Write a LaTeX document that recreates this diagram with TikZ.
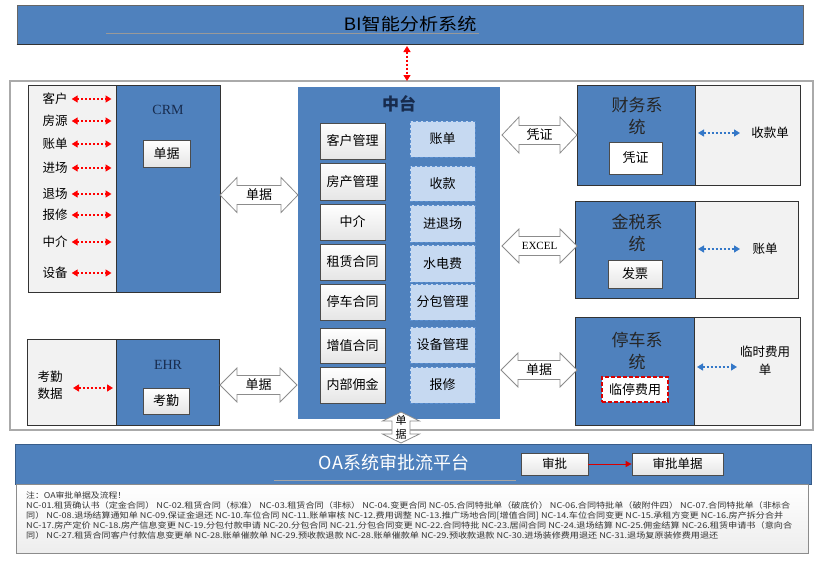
\documentclass[tikz,border=0pt]{standalone}
\usepackage{fontspec}
\setmainfont{Noto Sans CJK SC}
\newfontfamily\lserif{Liberation Serif}
\usetikzlibrary{arrows.meta,fit}
\definecolor{mblue}{RGB}{79,129,189}
\definecolor{dblue}{RGB}{56,93,138}
\definecolor{lgray}{RGB}{242,242,242}
\definecolor{lblue}{RGB}{198,217,241}
\definecolor{dashblue}{RGB}{91,143,208}
\definecolor{arrblue}{RGB}{52,120,200}
\definecolor{frameg}{RGB}{170,170,170}
\definecolor{navy}{RGB}{23,43,77}
\tikzset{
 graypart/.style={inner sep=0pt, draw=black!80, fill=lgray, line width=1pt},
 bluepart/.style={inner sep=0pt, draw=black!80, fill=mblue, line width=1pt},
 wbox/.style={draw=black!70, line width=0.8pt, top color=white, bottom color=black!10, font=\fontsize{13}{15}\selectfont},
 dbox/.style={draw=dashblue, fill=lblue, line width=1pt, dash pattern=on 3pt off 2pt, font=\fontsize{13}{15}\selectfont},
 lbl/.style={font=\fontsize{12.5}{15}\selectfont, inner sep=1pt},
 ttl/.style={font=\fontsize{17}{22}\selectfont, align=center, text=black!85},
 latin/.style={font=\lserif\fontsize{14}{16}\selectfont, text=navy},
 reddash/.style={red, line width=1.3pt, dash pattern=on 2pt off 2pt, {Triangle[length=6pt,width=7pt]}-{Triangle[length=6pt,width=7pt]}},
 bluedash/.style={arrblue, line width=1.3pt, dash pattern=on 2pt off 2pt, {Triangle[length=6pt,width=7pt]}-{Triangle[length=6pt,width=7pt]}},
 fat/.style={draw=black!45, fill=white, line width=0.8pt},
 note/.style={anchor=west, inner sep=0pt, text=black!80},
}
\newcommand\myfatH[6]{%
 \draw[fat] (#1,#3) -- ({#1+#6},{#3-#4}) -- ({#1+#6},{#3-#5}) -- ({#2-#6},{#3-#5}) -- ({#2-#6},{#3-#4}) -- (#2,#3) -- ({#2-#6},{#3+#4}) -- ({#2-#6},{#3+#5}) -- ({#1+#6},{#3+#5}) -- ({#1+#6},{#3+#4}) -- cycle;}
\newcommand\myfatV[6]{%
 \draw[fat] (#3,#1) -- ({#3+#4},{#1+#6}) -- ({#3+#5},{#1+#6}) -- ({#3+#5},{#2-#6}) -- ({#3+#4},{#2-#6}) -- (#3,#2) -- ({#3-#4},{#2-#6}) -- ({#3-#5},{#2-#6}) -- ({#3-#5},{#1+#6}) -- ({#3-#4},{#1+#6}) -- cycle;}
\newcommand\rnode[7]{%
 \pgfmathsetmacro\rcx{(#3+#5)/2}\pgfmathsetmacro\rcy{(#4+#6)/2}%
 \pgfmathsetmacro\rw{#5-#3}\pgfmathsetmacro\rh{#6-#4}%
 \node[#1, minimum width=\rw pt, minimum height=\rh pt, inner sep=0pt] (#2) at (\rcx,\rcy) {#7};}
\begin{document}
\begin{tikzpicture}[x=1pt,y=-1pt]
\useasboundingbox (0,0) rectangle (830,570);
\fill[white] (0,0) rectangle (830,570);

% BI banner
\node[fit={(17,5) (803,44)}, inner sep=0pt, fill=mblue, draw=black!60, line width=0.6pt] (bi) {};
\draw[black!80, line width=1.5pt] (bi.south west) -- (bi.south east);
\draw[black!40, line width=0.8pt] (106,33) -- (479,33);
\node[inner sep=0pt] (bitxt) at (410,24) {\resizebox{133pt}{\height}{\fontsize{17}{20}\selectfont BI智能分析系统}};

% outer frame
\node[fit={(10,81) (813,430)}, inner sep=0pt, draw=frameg, line width=2.5pt] (frame) {};
\coordinate (bia) at (407,46);
\coordinate (bib) at (407,81);
\draw[reddash] (bia) -- (bib);

% CRM
\node[fit={(28,85) (116,292)}, graypart] (crmL) {};
\node[fit={(116,85) (220,292)}, bluepart] (crmR) {};
\node[latin] (crmt) at (168,110) {CRM};
\rnode{wbox}{crmb}{143}{140}{190}{167}{单据}
\foreach \n/\t/\y in {c1/客户/99, c2/房源/121, c3/账单/144, c4/进场/168, c5/退场/194, c6/报修/215, c7/中介/242, c8/设备/273}{
 \node[lbl] (\n) at (55,\y) {\t};
 \draw[reddash, shorten <=3pt, shorten >=4pt] (\n.east) -- (\n.east -| crmR.west);
}

% EHR
\node[fit={(27,339) (116,425)}, graypart] (ehrL) {};
\node[fit={(116,339) (219,425)}, bluepart] (ehrR) {};
\node[latin] (ehrt) at (168,365) {EHR};
\rnode{wbox}{ehrb}{143}{388}{189}{414}{考勤}
\node[lbl, align=center, font=\fontsize{12.5}{17}\selectfont] (kq) at (50,385.5) {考勤\\数据};
\coordinate (kqa) at (73,388);
\coordinate (kqb) at (113,388);
\draw[reddash] (kqa) -- (kqb);

% Zhongtai
\node[fit={(298,87) (500,419)}, inner sep=0pt, fill=mblue] (zt) {};
\node[font=\fontsize{17}{20}\selectfont\bfseries, text=navy] (ztt) at (399,104) {中台};
\foreach \n/\t/\ya/\yb in {L1/客户管理/123/159, L2/房产管理/163/200, L3/中介/204/240, L4/租赁合同/244/280, L5/停车合同/284/320, L6/增值合同/328/363, L7/内部佣金/367/403}{
 \rnode{wbox}{\n}{320}{\ya}{385}{\yb}{\t}
}
\foreach \n/\t/\ya/\yb in {R1/账单/121/157, R2/收款/166/201, R3/进退场/205/242, R4/水电费/245/282, R5/分包管理/284/320, R6/设备管理/327/363, R7/报修/367/403}{
 \rnode{dbox}{\n}{410}{\ya}{475}{\yb}{\t}
}

% Finance
\node[fit={(577,85) (695,185)}, bluepart] (fL) {};
\node[fit={(695,85) (800,185)}, graypart] (fR) {};
\node[ttl] (ft) at (637,116.5) {财务系\\统};
\rnode{wbox, top color=white, bottom color=white}{fb}{609}{142}{662}{174}{凭证}
\node[lbl] (ftx) at (770,133) {收款单};
\coordinate (fa) at (698,133);
\coordinate (fb2) at (740,133);
\draw[bluedash] (fa) -- (fb2);

% Golden tax
\node[fit={(575,201) (695,298)}, bluepart] (jL) {};
\node[fit={(695,201) (798,298)}, graypart] (jR) {};
\node[ttl] (jt) at (637,232.5) {金税系\\统};
\rnode{wbox}{jb}{608}{260}{662}{288}{发票}
\node[lbl] (jtx) at (765,249) {账单};
\coordinate (ja) at (698,249);
\coordinate (jb2) at (740,249);
\draw[bluedash] (ja) -- (jb2);

% Parking
\node[fit={(575,317) (694,425)}, bluepart] (tL) {};
\node[fit={(694,317) (800,425)}, graypart] (tR) {};
\node[ttl] (tt) at (637,350.5) {停车系\\统};
\rnode{fill=white, draw=red!85!black, line width=1.2pt, dash pattern=on 4pt off 2pt, font=\fontsize{13}{15}\selectfont}{tb}{602}{377}{668}{402}{临停费用}
\node[lbl, align=center, font=\fontsize{12.5}{18}\selectfont] (ttx) at (765,361) {临时费用\\单};
\coordinate (ta) at (697,367);
\coordinate (tb2) at (737,367);
\draw[bluedash] (ta) -- (tb2);

% fat arrows
\myfatH{220}{298}{195}{17.5}{9.5}{17}
\node[lbl, font=\fontsize{13}{15}\selectfont] (a1) at (259,195) {单据};
\myfatH{220}{297}{385}{17}{9.5}{17}
\node[lbl, font=\fontsize{13}{15}\selectfont] (a2) at (258.5,385) {单据};
\myfatH{502}{577}{135}{18}{9.5}{17}
\node[lbl, font=\fontsize{13}{15}\selectfont] (a3) at (539.5,135) {凭证};
\myfatH{502}{577}{246}{17}{9.5}{17}
\node[lbl, font=\lserif\fontsize{11}{13}\selectfont] (a4) at (539.5,246) {EXCEL};
\myfatH{501}{577}{370}{17}{9.5}{17}
\node[lbl, font=\fontsize{13}{15}\selectfont] (a5) at (539,370) {单据};

% OA banner
\node[fit={(15,444) (811,484)}, inner sep=0pt, fill=mblue, draw=dblue, line width=0.8pt] (oa) {};
\draw[black!35, line width=0.8pt] (274,480) -- (516,480);
\node[inner sep=0pt, text=white] (oat) at (394,463) {\resizebox{150pt}{\height}{\fontsize{18}{20}\selectfont OA系统审批流平台}};
\rnode{wbox, font=\fontsize{12.5}{14}\selectfont}{sp}{521}{453}{588}{475}{审批}
\rnode{wbox, font=\fontsize{12.5}{14}\selectfont}{spd}{632}{453}{723}{475}{审批单据}
\draw[red!85!black, line width=1pt, -{Triangle[length=6pt,width=6pt]}] (sp.east) -- (spd.west);

% vertical fat arrow
\myfatV{412}{443}{401}{18.5}{9}{9}
\node[inner sep=0pt, align=center, font=\fontsize{11}{14}\selectfont] (a6) at (401,427.5) {单\\据};

% notes
\node[fit={(16,484) (808,553)}, inner sep=0pt, draw=black!45, line width=0.8pt, top color=white, bottom color=black!7] (notes) {};
\node[note] (n1) at (26,495) {\resizebox{100pt}{\height}{\fontsize{8}{9}\selectfont 注：OA审批单据及流程！}};
\node[note] (n2) at (26,505.5) {\resizebox{764pt}{\height}{\fontsize{8}{9}\selectfont NC-01.租赁确认书（定金合同） NC-02.租赁合同（标准） NC-03.租赁合同（非标） NC-04.变更合同 NC-05.合同特批单（破底价） NC-06.合同特批单（破附件四） NC-07.合同特批单（非标合}};
\node[note] (n3) at (26,515.5) {\resizebox{757pt}{\height}{\fontsize{8}{9}\selectfont 同） NC-08.退场结算通知单 NC-09.保证金退还 NC-10.车位合同 NC-11.账单审核 NC-12.费用调整 NC-13.推广场地合同[增值合同] NC-14.车位合同变更 NC-15.承租方变更 NC-16.房产拆分合并}};
\node[note] (n4) at (26,525.5) {\resizebox{766pt}{\height}{\fontsize{8}{9}\selectfont NC-17.房产定价 NC-18.房产信息变更 NC-19.分包付款申请 NC-20.分包合同 NC-21.分包合同变更 NC-22.合同特批 NC-23.居间合同 NC-24.退场结算 NC-25.佣金结算 NC-26.租赁申请书（意向合}};
\node[note] (n5) at (26,535.5) {\resizebox{692pt}{\height}{\fontsize{8}{9}\selectfont 同） NC-27.租赁合同客户付款信息变更单 NC-28.账单催款单 NC-29.预收款退款 NC-28.账单催款单 NC-29.预收款退款 NC-30.进场装修费用退还 NC-31.退场复原装修费用退还}};
\end{tikzpicture}
\end{document}
